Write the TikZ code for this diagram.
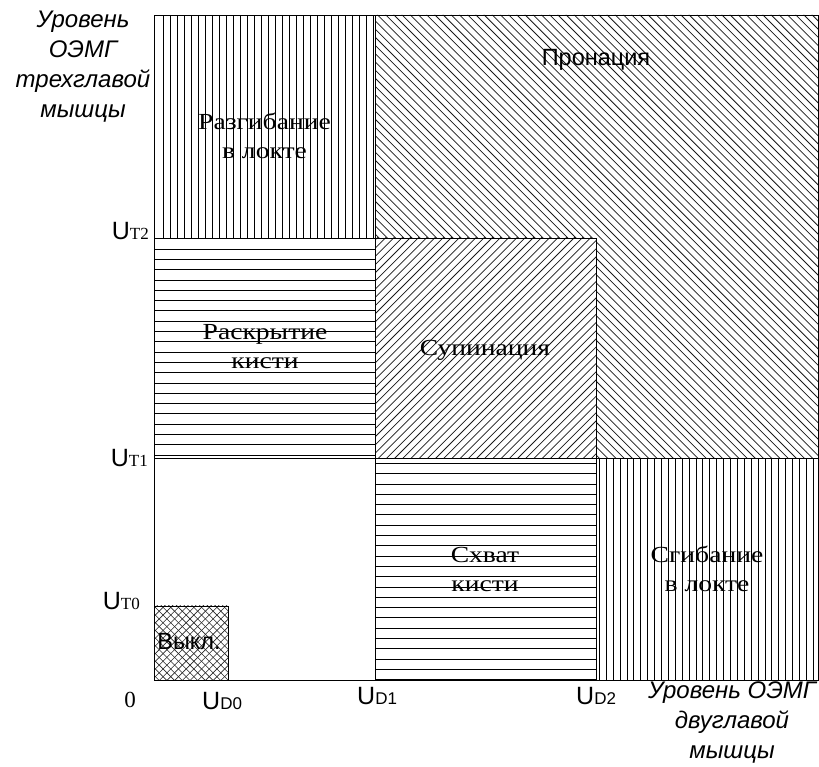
\documentclass[tikz,border=0pt]{standalone}
\usepackage{fontspec}
\setmainfont{Liberation Serif}
\setsansfont{Liberation Sans}
\newfontfamily\serifwide[FakeStretch=1.2]{Liberation Serif}
\begin{document}
\begin{tikzpicture}[x=1pt,y=1pt,
  border/.style={draw=black, line width=0.9pt},
  hatchline/.style={line width=0.75pt, black},
  diagline/.style={line width=0.75pt, black!90},
  crossline/.style={line width=0.6pt, black!85},
  lblserif/.style={inner sep=0pt, align=center, font=\serifwide\fontsize{23}{29}\selectfont},
  lblsans/.style={inner sep=0pt, align=center, font=\sffamily\fontsize{23.5}{28}\selectfont},
  axtitle/.style={inner sep=0pt, align=center, font=\sffamily\itshape\fontsize{24}{30}\selectfont},
  ulabel/.style={inner sep=0pt, font=\sffamily\fontsize{25}{28}\selectfont},
]
\useasboundingbox (0,0) rectangle (819,767);

% --- Разгибание: vertical lines
\begin{scope}
  \clip (154,529) rectangle (375,752);
  \foreach \k in {0,...,31} \draw[hatchline] ({163.3+7*\k},529) -- ({163.3+7*\k},752);
\end{scope}
% --- Пронация: back-diagonal lines (L-shaped region)
\begin{scope}
  \clip (375,752) -- (818,752) -- (818,309) -- (596,309) -- (596,529) -- (375,529) -- cycle;
  \foreach \k in {0,...,82} \draw[diagline] ({900+8.2*\k-760},760) -- ({900+8.2*\k-300},300);
\end{scope}
% --- Раскрытие кисти: horizontal lines
\begin{scope}
  \clip (154,309) rectangle (375,529);
  \foreach \k in {0,...,22} \draw[hatchline] (154,{312+10.3*\k}) -- (375,{312+10.3*\k});
\end{scope}
% --- Супинация: diagonal lines
\begin{scope}
  \clip (375,309) rectangle (596,529);
  \foreach \k in {0,...,56} \draw[diagline] ({-160+8.2*\k+300},300) -- ({-160+8.2*\k+540},540);
\end{scope}
% --- Схват кисти: horizontal lines
\begin{scope}
  \clip (375,87) rectangle (596,309);
  \foreach \k in {0,...,21} \draw[hatchline] (375,{303.7-10.3*\k}) -- (596,{303.7-10.3*\k});
\end{scope}
% --- Сгибание: vertical lines
\begin{scope}
  \clip (596,87) rectangle (818,309);
  \foreach \k in {0,...,32} \draw[hatchline] ({599.3+6.9*\k},87) -- ({599.3+6.9*\k},309);
\end{scope}
% --- Выкл.: cross hatch
\begin{scope}
  \clip (154,87) rectangle (228,161);
  \foreach \k in {0,...,20} {
    \draw[crossline] ({-12+7.7*\k+80},80) -- ({-12+7.7*\k+170},170);
    \draw[crossline] ({238+7.7*\k-170},170) -- ({238+7.7*\k-80},80);
  }
\end{scope}

% borders
\draw[border] (154,529) rectangle (375,752);
\draw[border] (375,752) -- (818,752) -- (818,309) -- (596,309) -- (596,529) -- (375,529) -- cycle;
\draw[border] (154,309) rectangle (375,529);
\draw[border] (375,309) rectangle (596,529);
\draw[border] (375,87) rectangle (596,309);
\draw[border] (596,87) rectangle (818,309);
\draw[border] (154,87) rectangle (228,161);
\draw[border] (154,87) rectangle (818,752);

% region labels
\node[lblserif] (razg) at (264.5,631) {Разгибание\\в локте};
\node[lblsans, anchor=base] (pron) at (596,701) {Пронация};
\node[lblserif] (raskr) at (265,420) {Раскрытие\\кисти};
\node[lblserif, anchor=base] (supin) at (485,411) {Супинация};
\node[lblserif] (shvat) at (485,197) {Схват\\кисти};
\node[lblserif] (sgib) at (707,198.5) {Сгибание\\в локте};
\node[lblsans, anchor=base] (vykl) at (189,117) {Выкл.};

% axis titles
\node[axtitle] (ytitle) at (83,700) {Уровень\\ОЭМГ\\трехглавой\\мышцы};
\node[axtitle] (xtitle) at (732,44.5) {Уровень ОЭМГ\\двуглавой\\мышцы};

% threshold labels
\node[ulabel, anchor=base east] (ut2) at (149,527) {U{\rmfamily\fontsize{17}{19}\selectfont T2}};
\node[ulabel, anchor=base east] (ut1) at (148,300) {U{\rmfamily\fontsize{17}{19}\selectfont T1}};
\node[ulabel, anchor=base east] (ut0) at (140,157) {U{\rmfamily\fontsize{17}{19}\selectfont T0}};
\node[inner sep=0pt, anchor=base, font=\rmfamily\fontsize{23}{25}\selectfont] (zero) at (130,59) {0};
\node[ulabel, anchor=base west] (ud0) at (202,57) {U{\fontsize{17}{19}\selectfont D0}};
\node[ulabel, anchor=base west] (ud1) at (357,62) {U{\fontsize{17}{19}\selectfont D1}};
\node[ulabel, anchor=base west] (ud2) at (576,62) {U{\fontsize{17}{19}\selectfont D2}};
\end{tikzpicture}
\end{document}
